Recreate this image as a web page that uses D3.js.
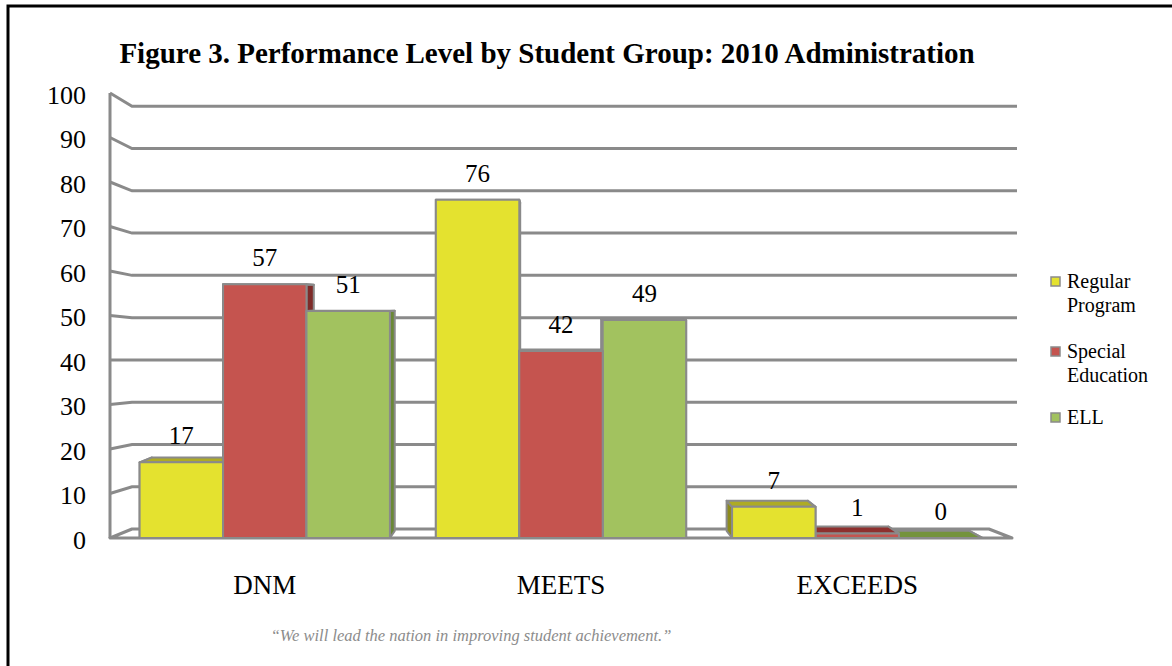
<!DOCTYPE html>
<html>
<head>
<meta charset="utf-8">
<script src="https://cdn.jsdelivr.net/npm/d3@7"></script>
<style>
  body { margin: 0; background: #fff; }
  svg { display: block; }
  svg text { font-family: "Liberation Serif", "Times New Roman", serif; }
</style>
</head>
<body>
<svg id="chart" width="1172" height="666"></svg>
<script>
// data
var categories = ["DNM", "MEETS", "EXCEEDS"];
var seriesNames = ["Regular Program", "Special Education", "ELL"];
var regularProgram = [17, 76, 7];
var specialEducation = [57, 42, 1];
var ell = [51, 49, 0];
var yTicks = [0, 10, 20, 30, 40, 50, 60, 70, 80, 90, 100];

var seriesValues = [regularProgram, specialEducation, ell];

var svg = d3.select("#chart");
var serif = "'Liberation Serif', 'Times New Roman', serif";

var frontColor = ["#e4e22f", "#c5544f", "#a2c25f"];
var topColor   = ["#aeab24", "#8e302e", "#74933c"];
var sideColor  = ["#8d8b1c", "#7e2b29", "#6a8836"];
var gridColor = "#8a8a8a";

// page frame
svg.append("path")
   .attr("d", "M8,666 V6 H1172")
   .attr("fill", "none")
   .attr("stroke", "#000")
   .attr("stroke-width", 3);

svg.append("text")
   .attr("x", 547)
   .attr("y", 63)
   .attr("text-anchor", "middle")
   .style("font-family", serif)
   .style("font-weight", "bold")
   .style("font-size", "29px")
   .text("Figure 3. Performance Level by Student Group: 2010 Administration");

var x0 = d3.scaleBand()
           .domain(categories)
           .range([110, 1012])
           .paddingInner(0.155)
           .paddingOuter(0.1);

var x1 = d3.scaleBand()
           .domain(seriesNames)
           .range([0, x0.bandwidth()]);

var y = d3.scaleLinear().domain([0, 100]).range([538, 93]);

// two vanishing points: one for the walls, a shallower one for the bars
var wallVp = [550, 358], wallK = 0.05;
var barVp = [550, 300], barK = 0.03;

function proj(p, vp, k) {
    return [p[0] + (vp[0] - p[0]) * k, p[1] + (vp[1] - p[1]) * k];
}

var line = d3.line();

// floor
var fl = [110, y(0)], fr = [x0.range()[1], y(0)];
svg.append("path")
   .attr("d", line([fl, fr, proj(fr, wallVp, wallK), proj(fl, wallVp, wallK)]) + "Z")
   .attr("fill", "#fff")
   .attr("stroke", gridColor)
   .attr("stroke-width", 3)
   .attr("stroke-linejoin", "round");

// gridlines running along the side wall then across the back
var grid = svg.append("g");
yTicks.filter(function(v) { return v > 0; }).forEach(function(v) {
    var front = [110, y(v)];
    var back = proj(front, wallVp, wallK);
    grid.append("path")
        .attr("d", line([front, back, [1017, back[1]]]))
        .attr("fill", "none")
        .attr("stroke", gridColor)
        .attr("stroke-width", 3);
});
grid.append("line")
    .attr("x1", 110).attr("x2", 110)
    .attr("y1", y(100)).attr("y2", y(0))
    .attr("stroke", gridColor)
    .attr("stroke-width", 3);

// y axis labels
var yAxis = svg.append("g")
   .attr("transform", "translate(89,2)")
   .call(d3.axisLeft(y).tickValues(yTicks).tickSize(0).tickPadding(3));
yAxis.select(".domain").remove();
yAxis.selectAll("text")
     .attr("fill", "#000")
     .style("font-family", serif)
     .style("font-size", "26px");

// bars
var bars = [];
categories.forEach(function(c, ci) {
    seriesNames.forEach(function(s, si) {
        var left = x0(c) + x1(s);
        bars.push({cat: c, si: si, value: seriesValues[si][ci],
                   left: left, right: left + x1.bandwidth()});
    });
});
// paint farthest from the vanishing point first
bars.sort(function(a, b) {
    return Math.abs((b.left + b.right) / 2 - barVp[0]) - Math.abs((a.left + a.right) / 2 - barVp[0]);
});

var barG = svg.append("g");
bars.forEach(function(d) {
    var yt = y(d.value), yb = y(0);
    var tl = [d.left, yt], tr = [d.right, yt], bl = [d.left, yb], br = [d.right, yb];
    var g = barG.append("g")
                .attr("stroke", gridColor)
                .attr("stroke-width", 2)
                .attr("stroke-linejoin", "round");

    g.append("path")
     .attr("d", line([tl, bl, proj(bl, barVp, barK), proj(tl, barVp, barK)]) + "Z")
     .attr("fill", sideColor[d.si]);
    g.append("path")
     .attr("d", line([tr, br, proj(br, barVp, barK), proj(tr, barVp, barK)]) + "Z")
     .attr("fill", sideColor[d.si]);
    g.append("path")
     .attr("d", line([tl, tr, proj(tr, barVp, barK), proj(tl, barVp, barK)]) + "Z")
     .attr("fill", topColor[d.si]);
    g.append("rect")
     .attr("x", d.left)
     .attr("y", yt)
     .attr("width", d.right - d.left)
     .attr("height", yb - yt)
     .attr("fill", frontColor[d.si]);
});

// value labels
bars.forEach(function(d) {
    svg.append("text")
       .attr("x", (d.left + d.right) / 2)
       .attr("y", y(d.value) - 18)
       .attr("text-anchor", "middle")
       .style("font-family", serif)
       .style("font-size", "25px")
       .text(d.value);
});

// category labels
svg.append("g").selectAll("text")
   .data(categories)
   .enter().append("text")
   .attr("x", function(d) { return x0(d) + x0.bandwidth() / 2; })
   .attr("y", 594)
   .attr("text-anchor", "middle")
   .style("font-family", serif)
   .style("font-size", "27px")
   .text(function(d) { return d; });

// legend
var legend = svg.append("g").attr("transform", "translate(1051,0)");
var legendY = [277, 347, 413];
seriesNames.forEach(function(s, i) {
    var words = i == 2 ? [s] : s.split(" ");
    legend.append("rect")
          .attr("x", 0).attr("y", legendY[i])
          .attr("width", 9).attr("height", 9)
          .attr("fill", frontColor[i])
          .attr("stroke", gridColor)
          .attr("stroke-width", 1.5);
    var t = legend.append("text")
                  .attr("x", 16)
                  .attr("y", legendY[i] + 11)
                  .style("font-family", serif)
                  .style("font-size", "20px");
    words.forEach(function(w, wi) {
        t.append("tspan")
         .attr("x", 16)
         .attr("dy", wi == 0 ? 0 : 24)
         .text(w);
    });
});

svg.append("text")
   .attr("x", 471)
   .attr("y", 641)
   .attr("text-anchor", "middle")
   .attr("fill", "#8c8c8c")
   .style("font-family", serif)
   .style("font-style", "italic")
   .style("font-size", "16.5px")
   .text("\u201cWe will lead the nation in improving student achievement.\u201d");
</script>
</body>
</html>
